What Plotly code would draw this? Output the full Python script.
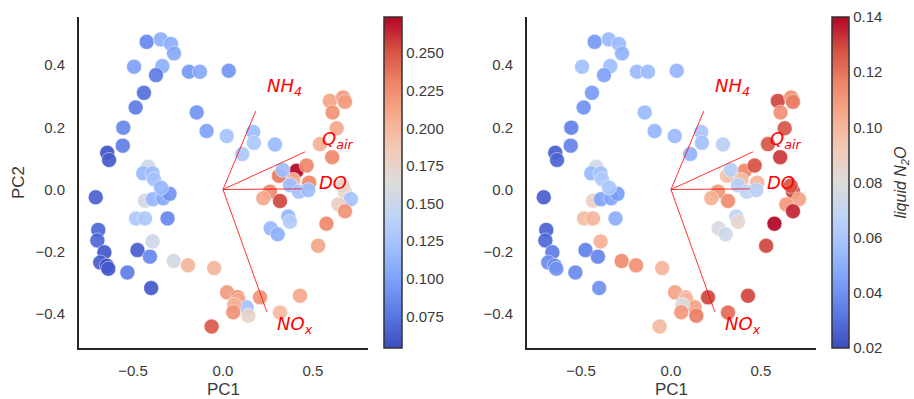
import plotly.graph_objects as go

# PCA scores (PC1, PC2) for each sample
pc1 = [-0.424, -0.346, -0.289, -0.272, -0.494, -0.337, -0.372, -0.189, -0.128, 0.032,
       -0.439, -0.485, -0.146, -0.554, -0.091, 0.021, 0.168, 0.172, 0.289, 0.107,
       -0.643, -0.633, -0.557, 0.594, 0.668, 0.678, 0.609, 0.632, 0.539, 0.607,
       0.409, 0.465, 0.311, 0.391, 0.479, 0.332, 0.372, 0.422, 0.678, 0.711,
       0.261, 0.317, -0.707, -0.433, -0.389, -0.332, -0.297, -0.483, -0.433, -0.308,
       -0.693, -0.698, -0.391, -0.659, -0.475, -0.406, -0.682, -0.646, -0.637, -0.531,
       -0.274, -0.194, -0.049, -0.399, 0.023, 0.082, 0.085, 0.132, 0.063, 0.057,
       0.141, 0.206, 0.428, 0.317, -0.063, 0.224, 0.363, 0.265, 0.304, 0.372,
       0.641, 0.678, 0.575, 0.529, -0.415, -0.443, -0.391, -0.383, -0.344, 0.474,
       0.665]
pc2 = [0.475, 0.483, 0.468, 0.438, 0.395, 0.397, 0.368, 0.379, 0.379, 0.382,
       0.311, 0.264, 0.248, 0.199, 0.188, 0.172, 0.185, 0.150, 0.145, 0.114,
       0.118, 0.095, 0.141, 0.285, 0.296, 0.282, 0.248, 0.197, 0.146, 0.104,
       0.060, 0.077, 0.044, 0.031, 0.022, 0.063, 0.014, -0.007, -0.007, -0.031,
       -0.007, -0.037, -0.025, -0.036, -0.031, -0.028, -0.014, -0.093, -0.093, -0.093,
       -0.130, -0.164, -0.167, -0.202, -0.195, -0.216, -0.235, -0.245, -0.255, -0.267,
       -0.230, -0.244, -0.253, -0.317, -0.331, -0.347, -0.355, -0.379, -0.371, -0.395,
       -0.406, -0.347, -0.342, -0.396, -0.441, -0.028, -0.087, -0.125, -0.144, -0.104,
       -0.048, -0.070, -0.110, -0.181, 0.073, 0.052, 0.052, 0.033, 0.006, -0.002,
       0.012]
# colour variable of the left panel
left_value = [0.085, 0.110, 0.108, 0.105, 0.100, 0.110, 0.078, 0.095, 0.105, 0.093,
              0.072, 0.078, 0.092, 0.085, 0.100, 0.125, 0.120, 0.130, 0.118, 0.130,
              0.058, 0.062, 0.080, 0.212, 0.217, 0.217, 0.222, 0.210, 0.205, 0.227,
              0.274, 0.227, 0.235, 0.205, 0.227, 0.120, 0.120, 0.125, 0.176, 0.125,
              0.227, 0.255, 0.065, 0.155, 0.115, 0.105, 0.092, 0.130, 0.130, 0.085,
              0.068, 0.068, 0.153, 0.060, 0.063, 0.085, 0.062, 0.058, 0.060, 0.080,
              0.158, 0.200, 0.200, 0.060, 0.217, 0.230, 0.210, 0.125, 0.205, 0.222,
              0.176, 0.222, 0.210, 0.198, 0.248, 0.210, 0.115, 0.115, 0.110, 0.135,
              0.180, 0.222, 0.227, 0.212, 0.153, 0.118, 0.118, 0.125, 0.115, 0.120,
              0.174]
# liquid N2O (right panel colour)
liquid_n2o = [0.042, 0.055, 0.055, 0.052, 0.058, 0.056, 0.045, 0.055, 0.055, 0.053,
              0.043, 0.040, 0.055, 0.035, 0.053, 0.055, 0.060, 0.058, 0.066, 0.052,
              0.025, 0.027, 0.036, 0.130, 0.112, 0.118, 0.112, 0.127, 0.127, 0.132,
              0.115, 0.128, 0.097, 0.097, 0.100, 0.065, 0.065, 0.068, 0.130, 0.107,
              0.110, 0.114, 0.025, 0.088, 0.046, 0.046, 0.044, 0.098, 0.100, 0.050,
              0.026, 0.028, 0.102, 0.034, 0.035, 0.036, 0.038, 0.038, 0.040, 0.038,
              0.114, 0.112, 0.100, 0.040, 0.107, 0.102, 0.100, 0.107, 0.080, 0.110,
              0.117, 0.130, 0.130, 0.122, 0.099, 0.102, 0.068, 0.078, 0.074, 0.085,
              0.110, 0.135, 0.140, 0.130, 0.075, 0.055, 0.058, 0.062, 0.060, 0.066,
              0.128]

# loading vectors
loading_names = ["NH<sub>4</sub>", "Q<sub>air</sub>", "DO", "NO<sub>x</sub>"]
loading_x = [0.182, 0.456, 0.439, 0.244]
loading_y = [0.252, 0.121, 0.002, -0.394]
label_x = [0.344, 0.639, 0.611, 0.400]
label_y = [0.330, 0.160, 0.022, -0.435]

left_ticks = [0.075, 0.100, 0.125, 0.150, 0.175, 0.200, 0.225, 0.250]
right_ticks = [0.02, 0.04, 0.06, 0.08, 0.10, 0.12, 0.14]

coolwarm = [[0.0, "#3b4cc0"], [0.1, "#5977e3"], [0.2, "#7b9ff9"], [0.3, "#9ebeff"],
            [0.4, "#c0d4f5"], [0.5, "#dddcdc"], [0.6, "#f2cbb7"], [0.7, "#f7ac8e"],
            [0.8, "#ee8468"], [0.9, "#d65244"], [1.0, "#b40426"]]

W, H = 914, 399
fig = go.Figure()

panels = [("x", "y", "coloraxis", left_value), ("x2", "y2", "coloraxis2", liquid_n2o)]
for xa, ya, ca, vals in panels:
    fig.add_trace(go.Scatter(
        x=pc1, y=pc2, mode="markers", xaxis=xa, yaxis=ya, showlegend=False,
        marker=dict(size=15, color=vals, coloraxis=ca, opacity=0.92,
                    line=dict(width=0.5, color="white"))))
    for lx, ly in zip(loading_x, loading_y):
        fig.add_trace(go.Scatter(
            x=[0, lx], y=[0, ly], mode="lines", xaxis=xa, yaxis=ya, showlegend=False,
            line=dict(color="rgba(255,0,0,0.8)", width=1)))
    for name, tx, ty in zip(loading_names, label_x, label_y):
        fig.add_annotation(x=tx, y=ty, xref=xa, yref=ya, text="<i>" + name + "</i>",
                           showarrow=False,
                           font=dict(family="DejaVu Sans", size=18, color="red"))

font_family = "Liberation Sans, Arial, sans-serif"
tick_font = dict(size=15, color="#3a3a3a", family=font_family)
title_font = dict(size=17, color="#3a3a3a", family=font_family)
axis_common = dict(range=[-0.8, 0.806], showgrid=False, zeroline=False, showline=True,
                   linecolor="#262626", linewidth=2, ticks="outside", ticklen=8,
                   tickcolor="rgba(0,0,0,0)", tickvals=[-0.5, 0, 0.5],
                   ticktext=["\u22120.5", "0.0", "0.5"], tickfont=tick_font)
yaxis_common = dict(range=[-0.51, 0.555], showgrid=False, zeroline=False, showline=True,
                    linecolor="#262626", linewidth=2, ticks="outside", ticklen=9,
                    tickcolor="rgba(0,0,0,0)", tickvals=[-0.4, -0.2, 0, 0.2, 0.4],
                    ticktext=["\u22120.4", "\u22120.2", "0.0", "0.2", "0.4"],
                    tickfont=tick_font)

ybot = 1 - 348 / H
ytop = 1 - 17 / H
cb_y = 1 - (17 + 348) / 2 / H

fig.update_layout(
    width=W, height=H, margin=dict(l=0, r=0, t=0, b=0),
    paper_bgcolor="white", plot_bgcolor="white",
    font=dict(family=font_family, color="#3a3a3a"),
    xaxis=dict(domain=[79 / W, 368 / W], anchor="y",
               title=dict(text="PC1", font=title_font, standoff=6), **axis_common),
    yaxis=dict(domain=[ybot, ytop], anchor="x",
               title=dict(text="PC2", font=title_font, standoff=6), **yaxis_common),
    xaxis2=dict(domain=[527 / W, 816 / W], anchor="y2",
                title=dict(text="PC1", font=title_font, standoff=6), **axis_common),
    yaxis2=dict(domain=[ybot, ytop], anchor="x2", **yaxis_common),
    coloraxis=dict(colorscale=coolwarm, cmin=0.054, cmax=0.274,
                   colorbar=dict(x=384 / W, xanchor="left", y=cb_y, yanchor="middle",
                                 len=331, lenmode="pixels", thickness=18,
                                 xpad=0, ypad=0,
                                 outlinecolor="#333333", outlinewidth=1.5,
                                 tickvals=left_ticks, tickformat=".3f", ticks="",
                                 tickfont=tick_font)),
    coloraxis2=dict(colorscale=coolwarm, cmin=0.02, cmax=0.14,
                    colorbar=dict(x=832 / W, xanchor="left", y=cb_y, yanchor="middle",
                                  len=331, lenmode="pixels", thickness=17,
                                  xpad=0, ypad=0,
                                  outlinecolor="#333333", outlinewidth=1.5,
                                  tickvals=right_ticks, tickformat=".2f", ticks="",
                                  tickfont=tick_font)),
)

fig.add_annotation(x=901 / W, y=cb_y, xref="paper", yref="paper",
                   text="<i>liquid N<sub>2</sub>O</i>", textangle=-90, showarrow=False,
                   xanchor="center", yanchor="middle",
                   font=dict(size=16, color="#3a3a3a", family=font_family))

fig.write_html("out.html", config={"displayModeBar": False},
               post_script="document.body.style.margin='0';")
